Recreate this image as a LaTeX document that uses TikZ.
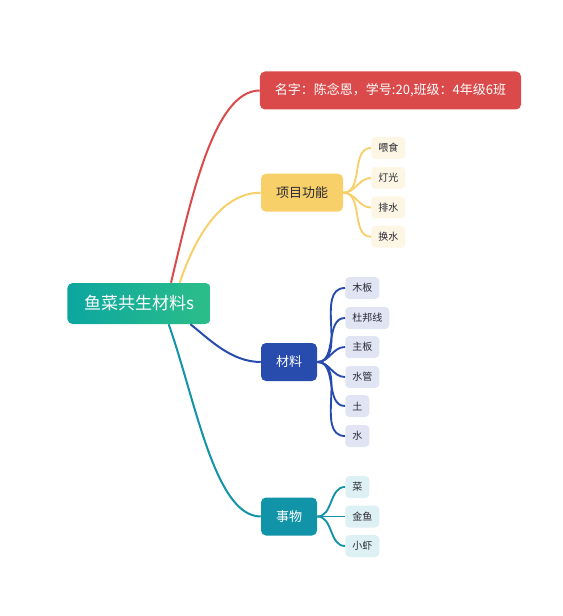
\documentclass[tikz,border=0pt]{standalone}
\usepackage{fontspec}
\setmainfont{Noto Sans CJK SC}
\usepackage{xcolor}
\usepackage{tikz}

\definecolor{rootleft}{RGB}{12,166,160}
\definecolor{rootright}{RGB}{44,190,136}
\definecolor{namered}{RGB}{219,74,74}
\definecolor{funcyellow}{RGB}{248,208,106}
\definecolor{matblue}{RGB}{40,76,174}
\definecolor{thingteal}{RGB}{18,148,168}
\definecolor{yleaf}{RGB}{253,246,228}
\definecolor{bleaf}{RGB}{224,228,243}
\definecolor{tleaf}{RGB}{221,240,243}
\definecolor{darktext}{RGB}{40,40,50}

\tikzset{
	mainbox/.style={rounded corners=3.75pt, minimum height=28.5pt, inner xsep=11.25pt, inner ysep=0pt, font=\fontsize{9.75pt}{11pt}\selectfont},
	leafbox/.style={rounded corners=3pt, minimum height=16.5pt, inner xsep=5.25pt, inner ysep=0pt, anchor=west, text=darktext, font=\fontsize{7.5pt}{9pt}\selectfont},
	branch/.style={line width=1.5pt},
	twig/.style={line width=1.4pt, out=0, in=180}
}

\begin{document}
\begin{tikzpicture}[x=0.75pt, y=-0.75pt]
	\useasboundingbox (0,0) rectangle (562,616);
	% root
	\node[rounded corners=3.75pt, left color=rootleft, right color=rootright, minimum height=30.75pt, inner xsep=12.4pt, inner ysep=0pt, text=white, font=\fontsize{12.75pt}{14pt}\selectfont] (root) at (139,303.5) {鱼菜共生材料s};
	% main branches
	\node[mainbox, fill=namered, text=white] (name) at (390.5,90.5) {名字：陈念恩，学号:20,班级：4年级6班};
	\node[mainbox, fill=funcyellow, text=darktext] (func) at (302,192.7) {项目功能};
	\node[mainbox, fill=matblue, text=white] (mat) at (289,362) {材料};
	\node[mainbox, fill=thingteal, text=white] (thing) at (289,516.5) {事物};
	\draw[branch, namered] (root.33) .. controls +(20,-83) and +(-46,0) .. (name.west);
	\draw[branch, funcyellow] (root.27) .. controls +(15,-45) and +(-40,0) .. (func.west);
	\draw[branch, matblue] (root.-22) .. controls +(18,14) and +(-30,0) .. (mat.west);
	\draw[branch, thingteal] (root.-35) .. controls +(27,76) and +(-46,0) .. (thing.west);
	% functions
	\node[leafbox, fill=yleaf] (feed) at (371,148) {喂食};
	\node[leafbox, fill=yleaf] (light) at (371,178) {灯光};
	\node[leafbox, fill=yleaf] (drain) at (371,207.5) {排水};
	\node[leafbox, fill=yleaf] (refill) at (371,236.7) {换水};
	\draw[twig, funcyellow] (func.east) to (feed.west);
	\draw[twig, funcyellow] (func.east) to (light.west);
	\draw[twig, funcyellow] (func.east) to (drain.west);
	\draw[twig, funcyellow] (func.east) to (refill.west);
	% materials
	\node[leafbox, fill=bleaf] (wood) at (345,288) {木板};
	\node[leafbox, fill=bleaf] (wire) at (345,318) {杜邦线};
	\node[leafbox, fill=bleaf] (board) at (345,347) {主板};
	\node[leafbox, fill=bleaf] (pipe) at (345,377) {水管};
	\node[leafbox, fill=bleaf] (soil) at (345,406) {土};
	\node[leafbox, fill=bleaf] (water) at (345,436) {水};
	\draw[twig, matblue] (mat.east) to (wood.west);
	\draw[twig, matblue] (mat.east) to (wire.west);
	\draw[twig, matblue] (mat.east) to (board.west);
	\draw[twig, matblue] (mat.east) to (pipe.west);
	\draw[twig, matblue] (mat.east) to (soil.west);
	\draw[twig, matblue] (mat.east) to (water.west);
	% things
	\node[leafbox, fill=tleaf] (veg) at (345,487) {菜};
	\node[leafbox, fill=tleaf] (fish) at (345,516.5) {金鱼};
	\node[leafbox, fill=tleaf] (shrimp) at (345,546) {小虾};
	\draw[twig, thingteal] (thing.east) to (veg.west);
	\draw[twig, thingteal] (thing.east) to (fish.west);
	\draw[twig, thingteal] (thing.east) to (shrimp.west);
\end{tikzpicture}
\end{document}
